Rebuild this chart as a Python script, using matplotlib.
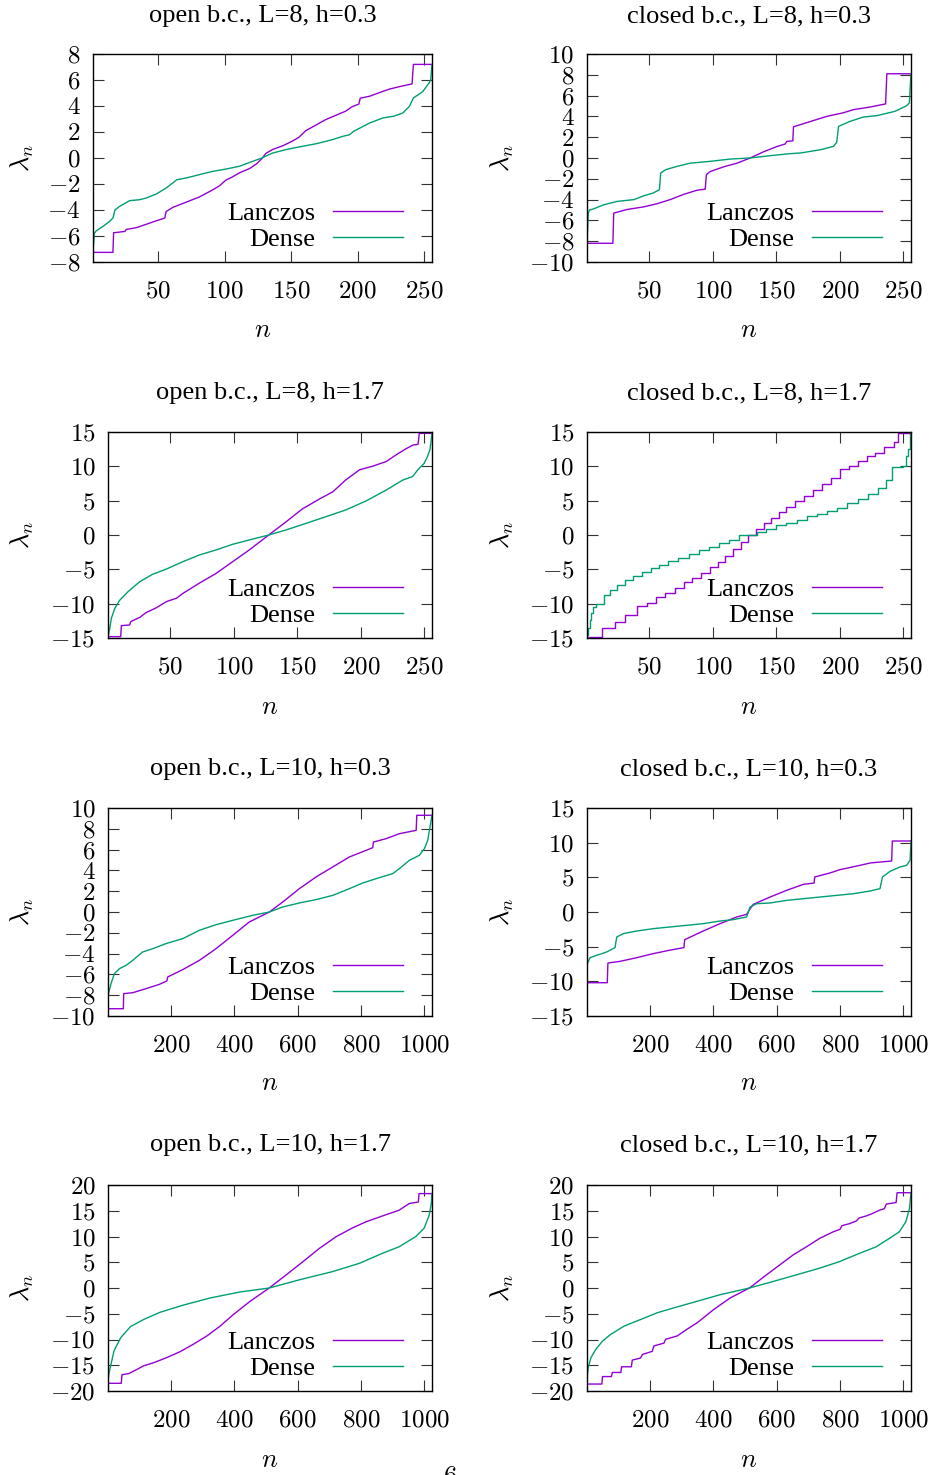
import matplotlib
matplotlib.use("Agg")
import matplotlib.pyplot as plt
from matplotlib.ticker import FixedLocator, FuncFormatter

plt.rcParams['mathtext.fontset'] = 'cm'
plt.rcParams['font.family'] = ['Liberation Serif', 'DejaVu Serif']
plt.rcParams['axes.unicode_minus'] = True

W, H = 934, 1475
LAN_COLOR = '#9400d3'
DEN_COLOR = '#009e73'

# ---------------- data ----------------
titles = ["open b.c., L=8, h=0.3", "closed b.c., L=8, h=0.3",
          "open b.c., L=8, h=1.7", "closed b.c., L=8, h=1.7",
          "open b.c., L=10, h=0.3", "closed b.c., L=10, h=0.3",
          "open b.c., L=10, h=1.7", "closed b.c., L=10, h=1.7"]
series_labels = ["Lanczos", "Dense"]

xticks_L8 = [50, 100, 150, 200, 250]
xticks_L10 = [200, 400, 600, 800, 1000]
yticks_8 = [-8, -6, -4, -2, 0, 2, 4, 6, 8]
yticks_10 = [-10, -8, -6, -4, -2, 0, 2, 4, 6, 8, 10]
yticks_15 = [-15, -10, -5, 0, 5, 10, 15]
yticks_20 = [-20, -15, -10, -5, 0, 5, 10, 15, 20]

# open, L=8, h=0.3
o8_03_lan_n = [1, 16, 16.5, 25, 26, 34, 48, 55, 56, 61, 71, 81, 91, 96, 101, 106, 111, 119, 124, 128,
               131, 136, 144, 151, 156, 161, 169, 176, 184, 191, 196, 201, 202, 209, 217, 224, 232, 241, 242, 256]
o8_03_lan_v = [-7.26, -7.26, -5.75, -5.65, -5.5, -5.35, -4.85, -4.62, -4.12, -3.8, -3.4, -3.0, -2.45, -2.15, -1.7,
               -1.45, -1.15, -0.8, -0.45, -0.05, 0.35, 0.65, 0.95, 1.3, 1.6, 2.1, 2.55, 2.95, 3.3, 3.6,
               3.95, 4.15, 4.6, 4.75, 5.05, 5.3, 5.5, 5.7, 7.2, 7.2]
o8_03_den_n = [1, 2, 3.5, 8.5, 13.5, 16, 17.5, 21, 28.6, 36, 41, 48.6, 56, 61, 64, 71, 81, 91, 101, 111,
               121, 128, 136, 146, 156, 169, 181, 189, 194, 197, 209, 219, 227, 234, 239, 242, 249, 254, 255, 256]
o8_03_den_v = [-7.2, -5.8, -5.6, -5.26, -4.87, -4.62, -4.0, -3.72, -3.28, -3.21, -3.08, -2.77, -2.31, -1.92, -1.67,
               -1.54, -1.28, -1.03, -0.85, -0.64, -0.26, 0.0, 0.38, 0.64, 0.85, 1.10, 1.41, 1.67, 1.79, 2.05,
               2.69, 3.08, 3.21, 3.46, 3.97, 4.62, 5.1, 5.8, 6.0, 7.18]

# closed, L=8, h=0.3
c8_03_lan_n = [1, 21.4, 22, 32.5, 45.6, 56, 66.5, 77, 87.5, 94, 95, 98, 108.5, 119, 129.4, 140, 150.4, 157, 158.3, 163,
               163.5, 171.4, 181.8, 189.7, 202.8, 210.7, 223.8, 236, 237, 256]
c8_03_lan_v = [-8.2, -8.2, -5.3, -4.95, -4.7, -4.4, -4.0, -3.5, -3.1, -3.0, -1.6, -1.3, -0.85, -0.5, 0.0, 0.6, 1.1,
               1.35, 1.6, 1.65, 3.0, 3.3, 3.7, 4.0, 4.35, 4.65, 4.9, 5.2, 8.1, 8.1]
c8_03_den_n = [1, 2, 3, 6, 14, 25, 38, 46, 53, 58, 59, 63, 72, 82, 98, 114, 129, 145, 161, 169,
               185, 195, 197.5, 199, 208, 218.5, 229, 243.4, 252.6, 254.7, 256]
c8_03_den_v = [-8.2, -5.3, -5.0, -4.9, -4.5, -4.17, -4.0, -3.62, -3.37, -3.05, -1.44, -1.12, -0.8, -0.5, -0.32,
               -0.1, 0.0, 0.22, 0.42, 0.48, 0.8, 1.12, 1.5, 3.04, 3.52, 3.94, 4.07, 4.49, 5.03, 5.3, 8.1]

# open, L=8, h=1.7
o8_17_lan_n = [1, 11, 11.5, 18, 19, 26, 31, 39, 47, 55, 60, 73, 86, 99, 112, 127.5, 141, 154, 167, 178,
               188, 199, 209, 220, 228, 235, 241, 245, 246, 256]
o8_17_lan_v = [-14.8, -14.8, -13.2, -13.1, -12.6, -12.0, -11.3, -10.6, -9.7, -9.2, -8.5, -7.0, -5.6, -3.9, -2.2,
               0.0, 1.9, 3.8, 5.2, 6.3, 8.0, 9.5, 10.0, 10.7, 11.7, 12.5, 13.1, 13.2, 14.8, 14.8]
o8_17_den_n = [1, 2, 3.7, 6.3, 10.2, 16.8, 26, 36, 47, 60, 73, 86, 99, 112, 127.5, 141, 157, 172.5, 188, 204,
               220, 233, 240.6, 245.8, 249.7, 252.4, 254.5, 256]
o8_17_den_v = [-14.8, -14.0, -12.1, -10.7, -9.5, -8.25, -6.8, -5.73, -4.95, -3.88, -2.9, -2.18, -1.36, -0.73, 0.0,
               0.73, 1.7, 2.67, 3.64, 4.95, 6.55, 8.0, 8.5, 9.7, 10.4, 11.4, 12.5, 14.8]

# closed, L=8, h=1.7 (staircases)
c8_17_lan_n = [1, 13, 23, 31, 40, 48, 55, 62, 70, 77, 84, 91, 98, 104, 110, 116, 122, 128, 134, 140,
               146, 152, 158, 165, 172, 179, 186, 193, 200, 207, 214, 221, 228, 235, 243, 246, 256]
c8_17_lan_v = [-14.9, -13.5, -12.6, -11.6, -10.4, -9.9, -9.1, -8.4, -7.7, -6.9, -6.2, -5.5, -4.7, -3.9, -3.0,
               -2.0, -1.0, 0.0, 0.9, 1.7, 2.5, 3.3, 4.1, 4.9, 5.7, 6.5, 7.4, 8.3, 9.6, 10.1,
               10.8, 11.5, 12.0, 12.8, 13.5, 14.9, 14.9]
c8_17_den_n = [1, 2, 3, 4, 6, 8, 14, 19, 25, 31, 37, 44, 51, 58, 65, 73, 81, 89, 97, 105,
               113, 121, 135, 142, 150, 158, 166, 174, 182, 190, 198, 206, 214, 222, 230, 236, 241, 250, 252, 254,
               255, 256]
c8_17_den_v = [-14.6, -13.5, -12.4, -11.3, -10.5, -10.0, -8.7, -8.0, -7.3, -6.6, -6.0, -5.4, -4.8, -4.3, -3.8,
               -3.3, -2.8, -2.2, -1.7, -1.2, -0.7, 0.0, 0.4, 0.9, 1.4, 1.8, 2.2, 2.7, 3.1, 3.5,
               4.0, 4.6, 5.2, 5.9, 6.8, 8.0, 9.9, 10.1, 11.5, 12.5, 14.9, 14.9]

# open, L=10, h=0.3
o10_03_lan_n = [1, 49.5, 50.5, 79, 121, 163, 187, 189.5, 237, 289.5, 342, 395, 447, 510.5, 552.6, 605, 658,
                710.5, 763, 816, 837, 839, 879, 921, 974, 976, 1024]
o10_03_lan_v = [-9.3, -9.3, -7.85, -7.76, -7.37, -6.96, -6.63, -6.25, -5.54, -4.65, -3.53, -2.24, -0.96, 0.0,
                0.96, 2.24, 3.37, 4.33, 5.29, 5.93, 6.19, 6.73, 7.05, 7.53, 7.85, 9.3, 9.3]
o10_03_den_n = [1, 10.5, 21, 37, 58, 79, 110, 142, 184, 237, 289.5, 342, 395, 458, 510.5, 552.6, 605, 658,
                710.5, 763, 805, 847, 900, 921, 952.6, 984, 1000, 1010.5, 1024]
o10_03_den_v = [-8.0, -6.9, -5.93, -5.45, -5.13, -4.65, -3.85, -3.53, -3.04, -2.56, -1.76, -1.22, -0.8, -0.32,
                0.0, 0.48, 0.87, 1.19, 1.6, 2.24, 2.79, 3.2, 3.69, 4.17, 4.97, 5.45, 6.09, 6.89, 9.3]

# closed, L=10, h=0.3
c10_03_lan_n = [1, 65, 67, 105, 158, 210.5, 263, 307, 309.5, 368, 421, 473.7, 505, 514, 526, 579, 631.6, 684,
                718, 720, 768, 800, 863, 895, 963, 965, 1024]
c10_03_lan_v = [-10.2, -10.2, -7.36, -7.12, -6.59, -6.0, -5.5, -5.14, -3.99, -2.74, -1.68, -0.72, -0.34, 0.34,
                1.1, 2.16, 3.13, 3.99, 4.18, 5.05, 5.63, 6.11, 6.73, 7.07, 7.36, 10.24, 10.24]
c10_03_den_n = [1, 2, 10.5, 31.6, 63, 89.5, 95, 116, 158, 210.5, 263, 316, 368, 421, 463, 505, 516, 537, 579,
                631.6, 684, 737, 789.5, 842, 895, 926, 934, 958, 989, 1010, 1021, 1024]
c10_03_den_v = [-10.1, -7.45, -6.59, -6.25, -5.77, -5.14, -3.6, -3.12, -2.74, -2.4, -2.16, -1.92, -1.68, -1.3,
                -1.1, -0.72, 0.72, 1.2, 1.3, 1.68, 1.92, 2.16, 2.4, 2.64, 3.03, 3.37, 5.05, 5.87, 6.49, 6.73,
                7.45, 10.24]

# open, L=10, h=1.7
o10_17_lan_n = [1, 43, 45, 67, 88, 114, 145.5, 187, 229, 271, 313, 355, 397, 450, 510, 564, 617, 669, 721.5,
                774, 816, 868, 920, 952, 981, 983, 1024]
o10_17_lan_v = [-18.5, -18.5, -16.85, -16.6, -15.95, -15.1, -14.5, -13.5, -12.35, -10.9, -9.32, -7.4, -5.14,
                -2.57, 0.0, 2.57, 5.14, 7.72, 9.97, 11.7, 12.86, 14.0, 15.1, 16.4, 16.7, 18.33, 18.33]
o10_17_den_n = [1, 3, 6, 9.4, 20, 41, 72, 114, 166, 240, 324, 418, 510, 606, 711, 795, 868, 920, 973, 999,
                1015, 1022, 1024]
o10_17_den_v = [-18.4, -17.0, -16.0, -15.1, -12.2, -9.65, -7.5, -6.1, -4.7, -3.3, -1.93, -0.77, 0.0, 1.6, 3.2,
                4.8, 6.75, 8.0, 10.0, 11.6, 14.1, 16.5, 18.33]

# closed, L=10, h=1.7
c10_17_lan_n = [1, 48, 50, 78, 81, 108, 110, 141, 144, 170, 176, 207, 212, 244, 249, 286, 317, 349, 401, 453,
                514, 568, 610, 652, 694, 736, 778, 800, 806, 830, 851, 860, 883, 900, 924, 940, 946, 977, 980, 1024]
c10_17_lan_v = [-18.65, -18.65, -17.2, -17.2, -16.4, -16.4, -15.3, -15.3, -14.0, -13.6, -12.9, -12.3, -11.25,
                -10.7, -9.97, -9.3, -8.0, -6.75, -4.18, -1.93, 0.0, 2.57, 4.5, 6.43, 8.0, 9.65, 10.9, 11.4,
                12.1, 12.5, 13.0, 13.6, 14.0, 14.4, 15.1, 15.4, 16.3, 16.6, 18.5, 18.5]
c10_17_den_n = [1, 2, 5, 13.6, 29, 50, 76, 118, 171, 223, 275, 349, 422, 514, 590, 663, 736, 799, 862, 914,
                956, 987, 1008, 1019, 1024]
c10_17_den_v = [-18.6, -17.0, -15.4, -13.5, -11.9, -10.3, -9.0, -7.4, -6.1, -4.8, -3.86, -2.57, -1.29, 0.0,
                1.29, 2.57, 3.86, 5.14, 6.75, 8.0, 9.65, 10.9, 12.9, 15.4, 18.5]

# ---------------- layout ----------------
# (x0, y0, x1, y1) in px, title baseline px, ylabel center x px, xlabel center y px
panels = [
    dict(rect=(93, 54, 432, 262), tb=22, ylx=22, xly=331, xlim=(1, 256), xt=xticks_L8, ylim=(-8, 8), yt=yticks_8,
         ln=o8_03_lan_n, lv=o8_03_lan_v, dn=o8_03_den_n, dv=o8_03_den_v, ls=False, dsp=False),
    dict(rect=(587, 54, 911, 262), tb=22, ylx=502, xly=331, xlim=(1, 256), xt=xticks_L8, ylim=(-10, 10), yt=yticks_10,
         ln=c8_03_lan_n, lv=c8_03_lan_v, dn=c8_03_den_n, dv=c8_03_den_v, ls=False, dsp=False),
    dict(rect=(108, 432, 432, 638), tb=399, ylx=22, xly=708, xlim=(1, 256), xt=xticks_L8, ylim=(-15, 15), yt=yticks_15,
         ln=o8_17_lan_n, lv=o8_17_lan_v, dn=o8_17_den_n, dv=o8_17_den_v, ls=False, dsp=False),
    dict(rect=(587, 432, 911, 638), tb=399, ylx=502, xly=708, xlim=(1, 256), xt=xticks_L8, ylim=(-15, 15), yt=yticks_15,
         ln=c8_17_lan_n, lv=c8_17_lan_v, dn=c8_17_den_n, dv=c8_17_den_v, ls=True, dsp=True),
    dict(rect=(108, 808, 432, 1016), tb=775, ylx=22, xly=1084, xlim=(1, 1024), xt=xticks_L10, ylim=(-10, 10), yt=yticks_10,
         ln=o10_03_lan_n, lv=o10_03_lan_v, dn=o10_03_den_n, dv=o10_03_den_v, ls=False, dsp=False),
    dict(rect=(587, 808, 911, 1016), tb=775, ylx=502, xly=1084, xlim=(1, 1024), xt=xticks_L10, ylim=(-15, 15), yt=yticks_15,
         ln=c10_03_lan_n, lv=c10_03_lan_v, dn=c10_03_den_n, dv=c10_03_den_v, ls=False, dsp=False),
    dict(rect=(108, 1185, 432, 1391), tb=1151, ylx=22, xly=1461, xlim=(1, 1024), xt=xticks_L10, ylim=(-20, 20), yt=yticks_20,
         ln=o10_17_lan_n, lv=o10_17_lan_v, dn=o10_17_den_n, dv=o10_17_den_v, ls=False, dsp=False),
    dict(rect=(587, 1185, 911, 1391), tb=1151, ylx=502, xly=1461, xlim=(1, 1024), xt=xticks_L10, ylim=(-20, 20), yt=yticks_20,
         ln=c10_17_lan_n, lv=c10_17_lan_v, dn=c10_17_den_n, dv=c10_17_den_v, ls=False, dsp=False),
]

fig = plt.figure(figsize=(W / 100, H / 100), dpi=100)
fmt = FuncFormatter(lambda v, p: f'${v:.0f}$')

for title, p in zip(titles, panels):
    x0, y0, x1, y1 = p['rect']
    w, h = x1 - x0, y1 - y0
    ax = fig.add_axes([x0 / W, 1 - y1 / H, w / W, h / H])
    ax.plot(p['ln'], p['lv'], color=LAN_COLOR, lw=1.0,
            drawstyle='steps-post' if p['ls'] else 'default', label=series_labels[0])
    ax.plot(p['dn'], p['dv'], color=DEN_COLOR, lw=1.0,
            drawstyle='steps-post' if p['dsp'] else 'default', label=series_labels[1])
    ax.set_xlim(*p['xlim'])
    ax.set_ylim(*p['ylim'])
    ax.xaxis.set_major_locator(FixedLocator(p['xt']))
    ax.yaxis.set_major_locator(FixedLocator(p['yt']))
    ax.xaxis.set_major_formatter(fmt)
    ax.yaxis.set_major_formatter(fmt)
    ax.tick_params(which='both', direction='in', top=True, right=True, length=8, width=0.8,
                   labelsize=18, color='#333333')
    ax.tick_params(axis='x', pad=13.5)
    ax.tick_params(axis='y', pad=9)
    for s in ax.spines.values():
        s.set_linewidth(1.0)
    ax.text(0.5, 1 + (y0 - p['tb']) / h, title, transform=ax.transAxes,
            ha='center', va='baseline', fontsize=19)
    ax.set_ylabel(r'$\lambda_n$', fontsize=19, rotation=90, va='center', ha='center')
    ax.yaxis.set_label_coords((p['ylx'] - x0) / w, 0.5)
    ax.set_xlabel(r'$n$', fontsize=19, va='center', ha='center')
    ax.xaxis.set_label_coords(0.5, -(p['xly'] - y1) / h)
    ax.legend(loc='lower right', bbox_to_anchor=(1 - 29 / w, 11 / h), markerfirst=False, frameon=False,
              fontsize=19, handlelength=2.65, handletextpad=0.68, labelspacing=0.1,
              borderpad=0, borderaxespad=0)

fig.text(450 / W, 1 - 1467 / H, '$6$', ha='center', va='top', fontsize=19)

fig.savefig('out.png', dpi=100)
